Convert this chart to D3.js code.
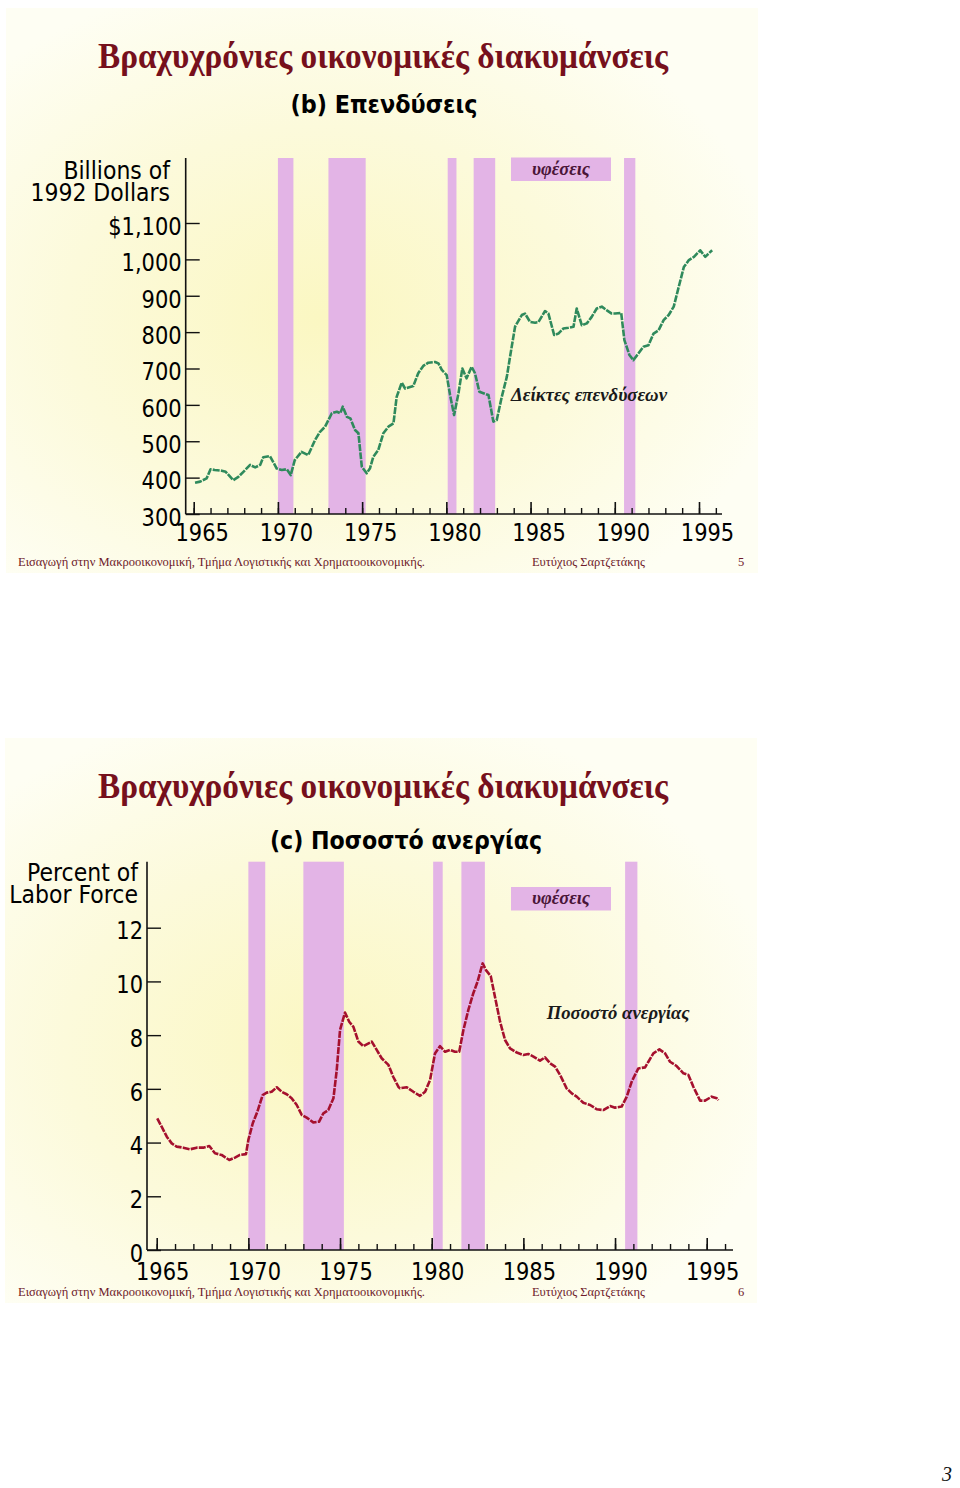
<!DOCTYPE html>
<html><head><meta charset="utf-8">
<script src="https://cdn.jsdelivr.net/npm/d3@7"></script>
<style>
html,body{margin:0;padding:0;background:#fff;}
svg{display:block;}
.ax{font-family:"DejaVu Sans",sans-serif;}
</style></head>
<body>
<svg id="c" width="960" height="1488"></svg>
<script>
// ---------------- data ----------------
const slideTitle = "Βραχυχρόνιες οικονομικές διακυμάνσεις";
const recessionStart = [1970.0, 1973.0, 1980.08, 1981.62, 1990.55];
const recessionEnd   = [1970.92, 1975.21, 1980.6, 1982.9, 1991.22];
const yearTicks = [1965, 1970, 1975, 1980, 1985, 1990, 1995];
const minorYears = d3.range(1965, 1997);

// (b) investment, billions of 1992 dollars
const invYears = [1965.08,1965.38,1965.77,1966.0,1966.25,1966.66,1966.9,1967.35,1967.65,1967.95,1968.35,1968.65,1968.95,1969.13,1969.53,1969.93,1970.23,1970.53,1970.76,1971.0,1971.4,1971.8,1972.2,1972.5,1972.8,1973.2,1973.5,1973.7,1973.85,1974.1,1974.3,1974.58,1974.78,1974.98,1975.27,1975.47,1975.66,1975.96,1976.26,1976.56,1976.86,1977.05,1977.35,1977.55,1978.04,1978.33,1978.63,1978.93,1979.33,1979.53,1979.73,1980.02,1980.22,1980.46,1980.72,1980.95,1981.2,1981.5,1981.7,1981.96,1982.2,1982.5,1982.79,1982.99,1983.29,1983.59,1983.78,1984.08,1984.48,1984.67,1984.97,1985.27,1985.47,1985.86,1986.06,1986.4,1986.65,1986.95,1987.25,1987.55,1987.74,1988.04,1988.34,1988.63,1988.93,1989.23,1989.53,1989.82,1990.02,1990.38,1990.57,1990.87,1991.1,1991.4,1991.7,1992.0,1992.3,1992.6,1992.9,1993.2,1993.5,1993.8,1994.1,1994.4,1994.7,1995.07,1995.37,1995.57,1995.78];
const invValues = [386,389,398,423,421,419,416,393,402,416,435,428,435,456,459,425,421,423,407,448,471,462,503,526,540,577,581,577,595,567,563,531,522,430,412,426,457,476,522,540,549,622,661,645,652,687,707,716,718,714,696,682,627,572,632,700,673,705,687,636,632,627,554,558,622,677,732,815,847,851,828,826,828,858,851,792,796,810,812,815,865,819,824,842,865,870,860,851,851,853,778,737,723,741,760,764,796,805,833,847,870,925,979,998,1007,1025,1007,1016,1025];
const invTicks = [300,400,500,600,700,800,900,1000,1100];
const invTickLabels = ["300","400","500","600","700","800","900","1,000","$1,100"];

// (c) unemployment rate, percent of labor force
const unYears = [1965.03,1965.27,1965.55,1965.82,1966.09,1966.45,1966.82,1967.18,1967.54,1967.87,1968.18,1968.54,1968.96,1969.27,1969.54,1969.87,1970.0,1970.24,1970.49,1970.78,1971.0,1971.27,1971.55,1971.82,1972.09,1972.36,1972.64,1972.91,1973.18,1973.54,1973.86,1974.09,1974.36,1974.64,1974.82,1975.0,1975.27,1975.5,1975.73,1976.0,1976.27,1976.73,1977.0,1977.27,1977.64,1977.9,1978.18,1978.27,1978.64,1979.0,1979.36,1979.64,1979.91,1980.18,1980.45,1980.73,1981.0,1981.27,1981.5,1981.73,1982.0,1982.27,1982.5,1982.78,1982.96,1983.22,1983.45,1983.73,1984.0,1984.27,1984.64,1985.0,1985.27,1985.55,1985.91,1986.18,1986.46,1986.73,1987.0,1987.36,1987.64,1987.91,1988.27,1988.64,1989.0,1989.36,1989.73,1990.0,1990.36,1990.64,1990.91,1991.27,1991.64,1991.82,1992.09,1992.42,1992.73,1993.0,1993.36,1993.73,1994.0,1994.27,1994.64,1994.91,1995.27,1995.55,1995.64];
const unValues = [4.90,4.59,4.22,3.97,3.85,3.81,3.75,3.81,3.81,3.87,3.60,3.54,3.35,3.44,3.54,3.57,4.10,4.72,5.15,5.77,5.86,5.89,6.06,5.89,5.80,5.65,5.40,5.03,4.93,4.75,4.78,5.09,5.21,5.65,6.70,8.19,8.84,8.50,8.31,7.76,7.59,7.76,7.45,7.14,6.89,6.45,6.08,6.02,6.06,5.89,5.74,5.89,6.33,7.32,7.59,7.38,7.45,7.38,7.38,8.19,8.94,9.56,9.99,10.67,10.42,10.20,9.43,8.50,7.82,7.51,7.35,7.26,7.30,7.20,7.05,7.17,6.95,6.83,6.52,6.02,5.83,5.71,5.48,5.40,5.24,5.21,5.36,5.30,5.34,5.71,6.27,6.76,6.80,7.01,7.32,7.47,7.32,7.01,6.85,6.58,6.52,6.08,5.56,5.56,5.71,5.65,5.58];
const unTicks = [0,2,4,6,8,10,12];

// ---------------- drawing ----------------
const svg = d3.select("#c");
const defs = svg.append("defs");
const grad = defs.append("radialGradient").attr("id","bg").attr("cx","0.42").attr("cy","0.55").attr("r","0.62");
grad.append("stop").attr("offset","0").attr("stop-color","#fbf7c2");
grad.append("stop").attr("offset","0.55").attr("stop-color","#fcfadb");
grad.append("stop").attr("offset","1").attr("stop-color","#fefef3");

const RECESS = "#e3b4e6";
const SQ = 0.84;   // horizontal squeeze of the sans tick labels
const SQT = 0.88;  // squeeze of axis titles

function squeeze(sel, k) {
  sel.each(function() {
    const w = this.getComputedTextLength();
    d3.select(this).attr("textLength", w * k).attr("lengthAdjust", "spacingAndGlyphs");
  });
}

function slide(cfg) {
  const g = svg.append("g");
  g.append("rect").attr("x",cfg.px).attr("y",cfg.py).attr("width",752).attr("height",565).attr("fill","url(#bg)");
  // title
  g.append("text").attr("x",383).attr("y",cfg.py+60).attr("text-anchor","middle")
    .attr("font-family","Liberation Serif, serif").attr("font-weight","bold").attr("font-size",35).attr("fill","#76101c")
    .attr("textLength",570).attr("lengthAdjust","spacingAndGlyphs").text(slideTitle);
  g.append("text").attr("x",cfg.subX).attr("y",cfg.subY).attr("text-anchor","middle").attr("class","ax")
    .attr("font-weight","bold").attr("font-size",25).attr("fill","#000")
    .attr("textLength",cfg.subW).attr("lengthAdjust","spacingAndGlyphs").text(cfg.sub);

  const x = d3.scaleLinear().domain([1965,1995]).range(cfg.xr);
  const y = d3.scaleLinear().domain(cfg.yd).range(cfg.yr);
  const base = cfg.yr[0];

  // recession bands
  g.append("g").selectAll("rect").data(recessionStart).join("rect")
    .attr("x",(d)=>x(d)).attr("width",(d,i)=>x(recessionEnd[i])-x(d))
    .attr("y",cfg.top).attr("height",base-cfg.top).attr("fill",RECESS);

  // legend
  g.append("rect").attr("x",511).attr("y",cfg.legY).attr("width",100).attr("height",23.5).attr("fill",RECESS);
  g.append("text").attr("x",561).attr("y",cfg.legY+17).attr("text-anchor","middle")
    .attr("font-family","Liberation Serif, serif").attr("font-style","italic").attr("font-weight","bold")
    .attr("font-size",18).attr("fill","#4a1538").attr("textLength",58).attr("lengthAdjust","spacingAndGlyphs").text("υφέσεις");

  // axes lines
  g.append("line").attr("x1",cfg.axX).attr("x2",cfg.axX).attr("y1",cfg.top).attr("y2",base).attr("stroke","#111").attr("stroke-width",1.6);
  g.append("line").attr("x1",cfg.axX).attr("x2",cfg.xEnd).attr("y1",base).attr("y2",base).attr("stroke","#111").attr("stroke-width",1.6);

  // x axis (ticks inward)
  const xa = g.append("g").attr("class","ax").attr("transform",`translate(0,${base})`)
    .call(d3.axisBottom(x).tickValues(yearTicks).tickFormat(d3.format("d")).tickSizeInner(-12).tickSizeOuter(0).tickPadding(cfg.xPad));
  xa.select(".domain").remove();
  xa.selectAll("line").attr("stroke","#111").attr("stroke-width",1.6);
  xa.selectAll("text").attr("font-size",25).attr("fill","#000").attr("dx",cfg.xdx).attr("font-family",null);
  squeeze(xa.selectAll("text"), SQ);
  const xm = g.append("g").attr("transform",`translate(0,${base})`)
    .call(d3.axisBottom(d3.scaleLinear().domain([1965,1996]).range([x(1965),x(1996)])).tickValues(minorYears).tickFormat("").tickSizeInner(-6).tickSizeOuter(0));
  xm.select(".domain").remove();
  xm.selectAll("line").attr("stroke","#111").attr("stroke-width",1.4);

  // y axis
  const ya = g.append("g").attr("class","ax").attr("transform",`translate(${cfg.axX},0)`)
    .call(d3.axisLeft(y).tickValues(cfg.yt).tickFormat((d,i)=>cfg.ytl[i]).tickSizeInner(-14).tickSizeOuter(0).tickPadding(4));
  ya.select(".domain").remove();
  ya.selectAll("line").attr("stroke","#111").attr("stroke-width",1.4);
  ya.selectAll("text").attr("font-size",25).attr("fill","#000").attr("dy","0.45em").attr("font-family",null);
  squeeze(ya.selectAll("text"), SQ);

  // axis title
  const at = g.append("text").attr("class","ax").attr("text-anchor","end").attr("font-size",25).attr("fill","#000");
  at.append("tspan").attr("x",cfg.atX).attr("y",cfg.atY).text(cfg.at[0]);
  at.append("tspan").attr("x",cfg.atX).attr("y",cfg.atY+22).text(cfg.at[1]);
  at.selectAll("tspan").each(function(){
    const w = this.getComputedTextLength();
    d3.select(this).attr("textLength", w*SQT).attr("lengthAdjust","spacingAndGlyphs");
  });

  // line
  const line = d3.line().x((d)=>x(d[0])).y((d)=>y(d[1])).curve(d3.curveLinear);
  g.append("path").datum(d3.zip(cfg.xs, cfg.vs)).attr("d",line).attr("fill","none")
    .attr("stroke",cfg.color).attr("stroke-width",2.6).attr("stroke-linejoin","round")
    .attr("stroke-dasharray","7 1.2");

  // series label
  g.append("text").attr("x",cfg.labX).attr("y",cfg.labY).attr("text-anchor","start")
    .attr("font-family","Liberation Serif, serif").attr("font-style","italic").attr("font-weight","bold")
    .attr("font-size",18).attr("fill","#1a1a1a").attr("textLength",cfg.labW).attr("lengthAdjust","spacingAndGlyphs").text(cfg.lab);

  // footer
  const fy = cfg.footY;
  g.append("text").attr("x",18).attr("y",fy).attr("font-family","Liberation Serif, serif").attr("font-size",12.5)
    .attr("fill","#6e1a2a").attr("textLength",407).attr("lengthAdjust","spacingAndGlyphs")
    .text("Εισαγωγή στην Μακροοικονομική, Τμήμα Λογιστικής και Χρηματοοικονομικής.");
  g.append("text").attr("x",532).attr("y",fy).attr("font-family","Liberation Serif, serif").attr("font-size",12.5)
    .attr("fill","#6e1a2a").attr("textLength",113).attr("lengthAdjust","spacingAndGlyphs").text("Ευτύχιος Σαρτζετάκης");
  g.append("text").attr("x",741).attr("y",fy).attr("text-anchor","middle").attr("font-family","Liberation Serif, serif").attr("font-size",12.5)
    .attr("fill","#6e1a2a").text(cfg.page);
}

slide({px:6, py:8, sub:"(b) Επενδύσεις", subX:384, subY:113, subW:187,
  xr:[193.7,699], yd:[300,1100], yr:[514,223], top:158, axX:185.7, xEnd:722,
  xPad:9.5, xdx:"8", yt:invTicks, ytl:invTickLabels, legY:157.5,
  at:["Billions of","1992 Dollars"], atX:170, atY:179,
  xs:invYears, vs:invValues, color:"#2f8a5c",
  lab:"Δείκτες επενδύσεων", labX:511, labY:401, labW:156, footY:566, page:"5"});

slide({px:5, py:738, sub:"(c) Ποσοστό ανεργίας", subX:406, subY:849, subW:272,
  xr:[156.7,706.7], yd:[0,12], yr:[1250,927.7], top:861.7, axX:147, xEnd:733,
  xPad:12.5, xdx:"5.5", yt:unTicks, ytl:unTicks.map(String), legY:887,
  at:["Percent of","Labor Force"], atX:138, atY:881,
  xs:unYears, vs:unValues, color:"#a5102e",
  lab:"Ποσοστό ανεργίας", labX:546.7, labY:1019, labW:143, footY:1296, page:"6"});

svg.append("text").attr("x",952).attr("y",1481).attr("text-anchor","end")
  .attr("font-family","Liberation Serif, serif").attr("font-style","italic").attr("font-size",20).attr("fill","#111").text("3");
</script>
</body></html>
